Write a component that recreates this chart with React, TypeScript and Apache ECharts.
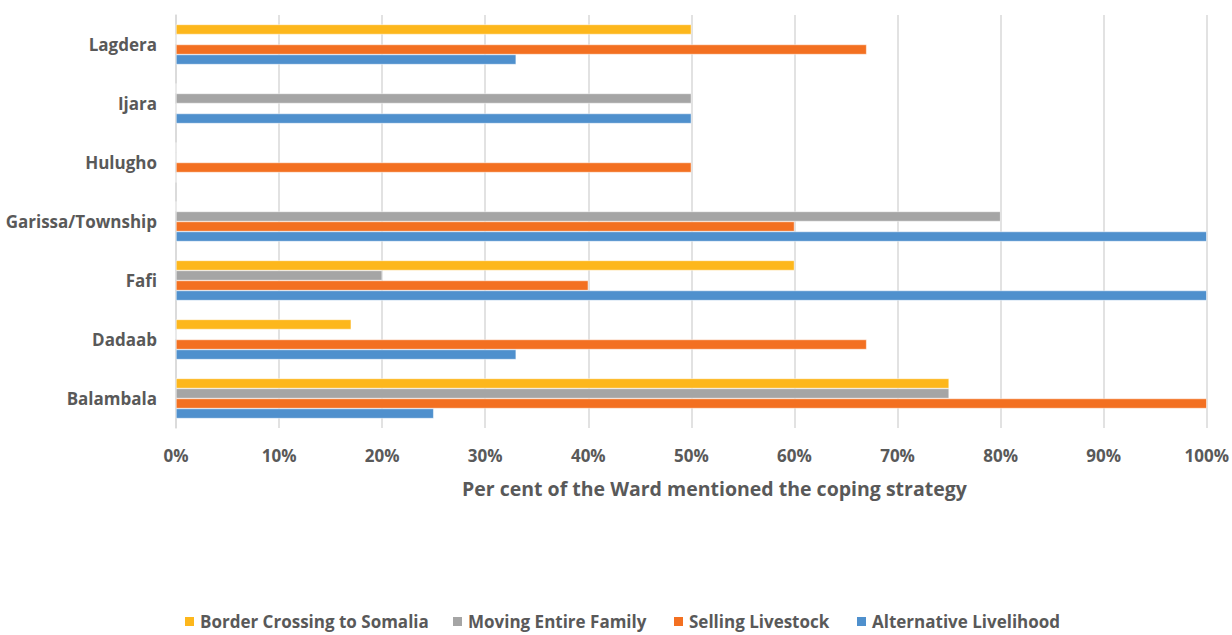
import React, { useEffect, useRef } from "react";
import * as echarts from "echarts";

const wards = ["Balambala", "Dadaab", "Fafi", "Garissa/Township", "Hulugho", "Ijara", "Lagdera"];
const borderCrossing = [75, 17, 60, 0, 0, 0, 50];
const movingFamily = [75, 0, 20, 80, 0, 50, 0];
const sellingLivestock = [100, 67, 40, 60, 50, 0, 67];
const alternativeLivelihood = [25, 33, 100, 100, 0, 50, 33];
const tickValues = [0, 10, 20, 30, 40, 50, 60, 70, 80, 90, 100];

const legendOrder = [
  "Border Crossing to Somalia",
  "Moving Entire Family",
  "Selling Livestock",
  "Alternative Livelihood",
];
// left edge of each legend entry's swatch
const legendLefts = [183, 451, 672, 855];

const FONT = "'Open Sans', Lato, sans-serif";
const TEXT = "#595959";

export default function App() {
  const ref = useRef<HTMLDivElement>(null);

  useEffect(() => {
    if (!ref.current) return;
    const chart = echarts.init(ref.current, null, { renderer: "svg" });
    const bar = (name: string, data: number[], color: string) => ({
      name,
      type: "bar",
      data,
      barGap: "0%",
      barCategoryGap: "32%",
      itemStyle: { color, borderColor: "#fff", borderWidth: 0.5 },
    });
    chart.setOption({
      animation: false,
      textStyle: { fontFamily: FONT },
      grid: { left: 176, right: 25, top: 15, bottom: 207, containLabel: false },
      legend: legendOrder.map((name, i) => ({
        data: [name],
        bottom: 5,
        left: legendLefts[i],
        padding: 0,
        itemWidth: 11,
        itemHeight: 11,
        icon: "rect",
        textStyle: { color: TEXT, fontSize: 17, fontWeight: "bold", fontFamily: FONT },
      })),
      xAxis: {
        type: "value",
        min: tickValues[0],
        max: tickValues[tickValues.length - 1],
        interval: 10,
        name: "Per cent of the Ward mentioned the coping strategy",
        nameLocation: "middle",
        nameGap: 50,
        nameTextStyle: {
          color: TEXT,
          fontSize: 19.5,
          fontWeight: "bold",
          fontFamily: FONT,
          padding: [0, 0, 0, 46],
        },
        axisLine: { show: false },
        axisTick: { show: false },
        axisLabel: {
          color: TEXT,
          fontSize: 17,
          fontWeight: "bold",
          margin: 19,
          formatter: (v: number) => `${v}%`,
        },
        splitLine: { show: true, lineStyle: { color: "#d9d9d9", width: 1.5 } },
      },
      yAxis: {
        type: "category",
        data: wards,
        axisLine: { show: true, lineStyle: { color: "#d9d9d9", width: 1.5 } },
        axisTick: { show: false },
        axisLabel: {
          color: TEXT,
          fontSize: 17,
          fontWeight: "bold",
          margin: 19,
        },
      },
      series: [
        bar("Border Crossing to Somalia", borderCrossing, "#FDB71C"),
        bar("Moving Entire Family", movingFamily, "#A5A5A5"),
        bar("Selling Livestock", sellingLivestock, "#F37021"),
        bar("Alternative Livelihood", alternativeLivelihood, "#4F90CD"),
      ],
    });
    return () => chart.dispose();
  }, []);

  return (
    <div
      ref={ref}
      style={{ position: "fixed", left: 0, top: 0, width: 1232, height: 635, background: "#fff" }}
    />
  );
}
